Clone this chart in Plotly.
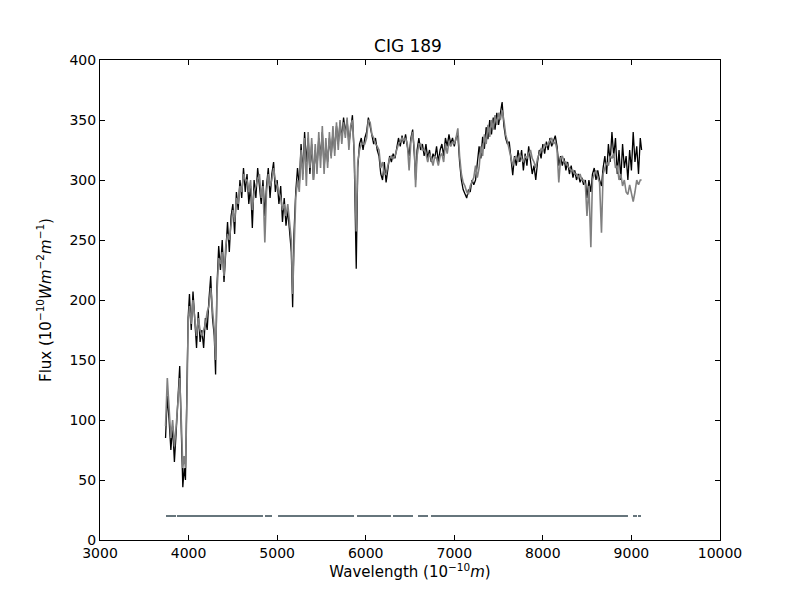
import plotly.graph_objects as go

# ==========================================
# DATA
# ==========================================
wavelength = [
    3740, 3760, 3780, 3800, 3820, 3840, 3860, 3880, 3900, 3920, 3935, 3950, 3965, 3980, 3995,
    4010, 4030, 4050, 4070, 4090, 4110, 4130, 4150, 4170, 4190, 4210, 4230, 4250, 4270, 4290,
    4305, 4320, 4340, 4360, 4380, 4400, 4420, 4440, 4460, 4480, 4500, 4520, 4540, 4560, 4580,
    4600, 4620, 4640, 4660, 4680, 4700, 4720, 4740, 4760, 4780, 4800, 4820, 4840, 4861, 4880,
    4900, 4920, 4940, 4960, 4980, 5000, 5020, 5040, 5060, 5080, 5100, 5120, 5140, 5160, 5175,
    5190, 5210, 5230, 5250, 5270, 5290, 5310, 5330, 5350, 5370, 5390, 5410, 5430, 5450, 5470,
    5490, 5510, 5530, 5550, 5570, 5590, 5610, 5630, 5650, 5670, 5690, 5710, 5730, 5750, 5770,
    5790, 5810, 5830, 5850, 5870, 5893, 5910, 5930, 5950, 5970, 5990, 6010, 6030, 6050, 6070,
    6090, 6110, 6130, 6150, 6170, 6190, 6210, 6230, 6250, 6270, 6290, 6310, 6330, 6350, 6370,
    6390, 6410, 6430, 6450, 6470, 6490, 6510, 6530, 6550, 6563, 6580, 6600, 6620, 6640, 6660,
    6680, 6700, 6720, 6740, 6760, 6780, 6800, 6820, 6840, 6860, 6880, 6900, 6920, 6940, 6960,
    6980, 7000, 7020, 7040, 7060, 7080, 7100, 7120, 7140, 7160, 7180, 7200, 7220, 7240, 7260,
    7280, 7300, 7320, 7340, 7360, 7380, 7400, 7420, 7440, 7460, 7480, 7500, 7520, 7540, 7560,
    7580, 7600, 7620, 7640, 7660, 7680, 7700, 7720, 7740, 7760, 7780, 7800, 7820, 7840, 7860,
    7880, 7900, 7920, 7940, 7960, 7980, 8000, 8020, 8040, 8060, 8080, 8100, 8120, 8140, 8160,
    8180, 8200, 8220, 8240, 8260, 8280, 8300, 8320, 8340, 8360, 8380, 8400, 8420, 8440, 8460,
    8480, 8498, 8520, 8542, 8560, 8580, 8600, 8620, 8640, 8662, 8680, 8700, 8720, 8740, 8760,
    8780, 8800, 8820, 8840, 8860, 8880, 8900, 8920, 8940, 8960, 8980, 9000, 9020, 9040, 9060,
    9080, 9100, 9115,
]

# observed spectrum (black)
flux_obs = [
    85, 120, 100, 75, 95, 65, 90, 115, 145, 85, 44, 60, 50, 120, 185,
    205, 175, 207, 180, 160, 190, 165, 175, 160, 185, 175, 200, 220, 185, 170,
    138, 210, 245, 225, 250, 215, 240, 265, 240, 270, 280, 255, 290, 275, 300,
    285, 310, 290, 305, 280, 295, 260, 300, 285, 310, 295, 280, 300, 270, 295,
    310, 285, 305, 315, 290, 300, 280, 295, 265, 285, 262, 275, 258, 240, 194,
    255, 290, 310, 295, 330, 305, 340, 315, 335, 305, 330, 300, 325, 310, 335,
    320, 340, 310, 330, 315, 335, 320, 340, 325, 345, 330, 348, 335, 352, 340,
    350, 330, 345, 354, 320, 226, 310, 330, 335, 325, 335, 340, 352, 345, 340,
    330, 335, 325, 320, 305, 300, 315, 298, 310, 320, 315, 322, 318, 328, 335,
    328, 337, 330, 338, 328, 320, 335, 342, 320, 300, 325, 335, 325, 330, 320,
    330, 318, 325, 315, 322, 318, 328, 315, 325, 330, 320, 335, 328, 338, 330,
    335, 328, 335, 338, 315, 300, 292, 288, 285, 292, 290, 300, 296, 300, 316,
    328, 318, 336, 326, 344, 334, 350, 338, 352, 342, 356, 346, 358, 365, 345,
    335, 330, 332, 318, 304, 320, 312, 325, 315, 325, 308, 322, 312, 328, 318,
    305, 312, 300, 315, 325, 318, 330, 322, 332, 325, 335, 328, 333, 337, 328,
    312, 320, 312, 318, 308, 315, 305, 312, 302, 308, 300, 305, 298, 302, 296,
    300, 285, 300, 290, 305, 310, 300, 308, 300, 295, 310, 320, 305, 330, 315,
    340, 320, 335, 305, 325, 300, 330, 310, 320, 300, 325, 308, 340, 315, 328,
    305, 335, 325,
]

# model spectrum (grey)
flux_model = [
    95, 135, 110, 85, 100, 78, 95, 120, 135, 95, 60, 70, 60, 110, 180,
    195, 180, 200, 185, 170, 185, 175, 170, 175, 180, 190, 195, 210, 190, 175,
    150, 205, 235, 230, 240, 220, 245, 255, 250, 265, 275, 265, 285, 280, 295,
    290, 305, 300, 300, 290, 300, 275, 290, 295, 300, 305, 285, 295, 248, 290,
    305, 295, 300, 310, 300, 295, 290, 285, 275, 280, 270, 280, 265, 250, 205,
    250, 285, 300, 290, 325, 300, 335, 295, 340, 310, 335, 300, 330, 305, 340,
    310, 345, 305, 335, 310, 340, 318, 345, 320, 348, 325, 350, 330, 348, 335,
    352, 325, 345, 350, 325, 257, 315, 325, 330, 330, 330, 335, 350, 348, 338,
    335, 330, 328, 325, 310, 315, 305, 305, 312, 318, 320, 318, 320, 325, 330,
    332, 335, 333, 335, 330, 308, 332, 340, 325, 294, 320, 330, 330, 325, 325,
    322, 315, 322, 318, 312, 320, 318, 312, 320, 322, 315, 330, 322, 332, 328,
    332, 330, 335, 343, 320, 305, 298, 295, 290, 288, 295, 298, 302, 312, 302,
    310, 328, 320, 338, 330, 346, 336, 350, 342, 354, 346, 356, 350, 358, 350,
    338, 332, 325, 320, 312, 318, 320, 315, 322, 318, 315, 320, 318, 322, 325,
    318, 315, 310, 318, 322, 326, 325, 330, 328, 330, 332, 335, 330, 332, 325,
    298, 318, 320, 315, 315, 312, 310, 308, 308, 305, 305, 302, 305, 300, 300,
    296, 270, 295, 244, 300, 305, 308, 302, 298, 256, 305, 310, 315, 312, 320,
    318, 322, 310, 312, 300, 305, 295, 300, 290, 288, 296, 290, 282, 290, 300,
    296, 300, 300,
]

# masked regions drawn as a bar at flux = 20
mask_start = [3745, 3869, 4863, 5010, 5902, 6308, 6590, 6737, 9018, 9074]
mask_end = [3858, 4840, 4942, 5868, 6285, 6534, 6703, 8961, 9063, 9108]
mask_level = 20

mask_x, mask_y = [], []
for s, e in zip(mask_start, mask_end):
    mask_x += [s, e, None]
    mask_y += [mask_level, mask_level, None]

# ==========================================
# FIGURE
# ==========================================
fig = go.Figure()
fig.add_trace(go.Scatter(x=wavelength, y=flux_obs, mode="lines",
                         line=dict(color="black", width=1.3), name="observed"))
fig.add_trace(go.Scatter(x=wavelength, y=flux_model, mode="lines",
                         line=dict(color="#808080", width=1.6), name="model"))
fig.add_trace(go.Scatter(x=mask_x, y=mask_y, mode="lines",
                         line=dict(color="#66757c", width=2), name="mask"))

axis_style = dict(showgrid=False, zeroline=False, showline=True, linecolor="black",
                  linewidth=1, mirror="ticks", ticks="inside", ticklen=5,
                  tickcolor="black", tickfont=dict(size=14, color="black"))

# page body adds an 8px offset, so margins are shifted to put the frame at 100..720 / 60..540
fig.update_layout(
    width=800, height=600,
    plot_bgcolor="white", paper_bgcolor="white",
    font=dict(family="DejaVu Sans", color="black"),
    margin=dict(l=92, r=88, t=52, b=68),
    showlegend=False,
    title=dict(text="CIG 189", x=0.5, xanchor="center", y=0.937, yanchor="middle",
               font=dict(size=17)),
    xaxis=dict(range=[3000, 10000], dtick=1000, tick0=3000, tickformat="d",
               title=dict(text="Wavelength (10<sup>−10</sup><i>m</i>)",
                          font=dict(size=15), standoff=6),
               **axis_style),
    yaxis=dict(range=[0, 400], dtick=50, tick0=0, tickformat="d",
               title=dict(text="Flux (10<sup>−10</sup><i>Wm</i><sup>−2</sup><i>m</i><sup>−1</sup>)",
                          font=dict(size=15), standoff=14),
               **axis_style),
)

fig.write_html("out.html")
